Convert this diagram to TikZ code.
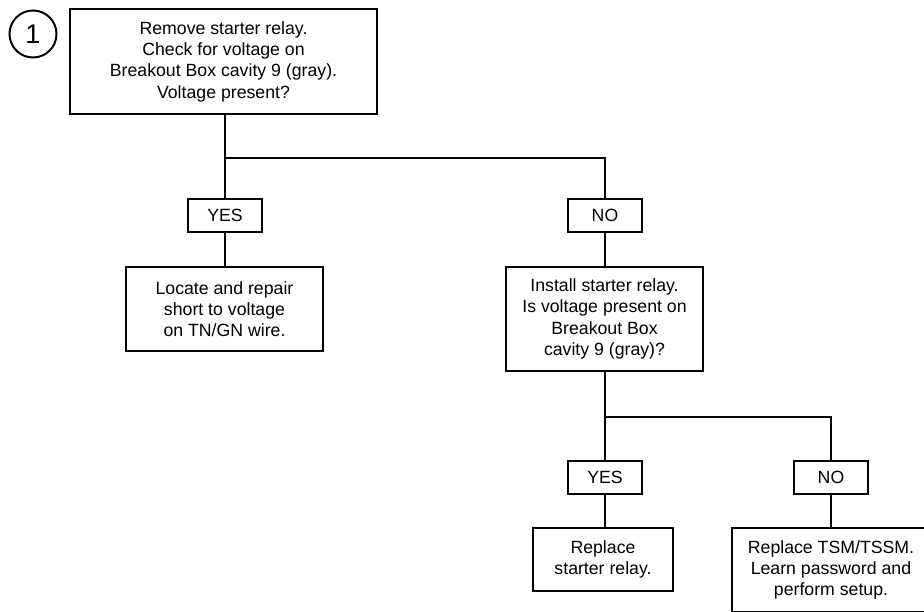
\documentclass[tikz,border=0pt]{standalone}
\usepackage{fontspec}
\setmainfont{Liberation Sans}
\begin{document}
\begin{tikzpicture}[x=1pt,y=-1pt,
  every node/.style={font=\fontsize{17.7}{21.3}\selectfont},
  box/.style={draw,line width=2pt,rectangle,align=center,inner sep=0pt},
  conn/.style={line width=2pt}]
\useasboundingbox (0,0) rectangle (924,612);
\clip (0,0) rectangle (924,612);
\node[draw,circle,line width=2pt,minimum size=47pt,inner sep=0pt,font=\fontsize{27}{29}\selectfont] (num) at (33,34) {1};
\node[box,minimum width=307pt,minimum height=105pt] (q1) at (223.5,61.5) {Remove starter relay.\\Check for voltage on\\Breakout Box cavity 9 (gray).\\Voltage present?};
\node[box,minimum width=74pt,minimum height=33pt] (yes1) at (225,215.5) {YES};
\node[box,minimum width=74pt,minimum height=33pt] (no1) at (605,215.5) {NO};
\node[box,minimum width=197pt,minimum height=84pt] (r1) at (224.5,309) {Locate and repair\\short to voltage\\on TN/GN wire.};
\node[box,minimum width=197pt,minimum height=104pt] (q2) at (604.5,319) {Install starter relay.\\Is voltage present on\\Breakout Box\\cavity 9 (gray)?};
\node[box,minimum width=74pt,minimum height=33pt] (yes2) at (605,477.5) {YES};
\node[box,minimum width=74pt,minimum height=33pt] (no2) at (831,477.5) {NO};
\node[box,minimum width=140pt,minimum height=63pt] (r2) at (603,559.5) {Replace\\starter relay.};
\node[box,minimum width=198pt,minimum height=84pt] (r3) at (831,570) {Replace TSM/TSSM.\\Learn password and\\perform setup.};
\coordinate (j1) at (225,158);
\coordinate (j2) at (605,417);
\draw[conn] (yes1 |- q1.south) -- (j1) -- (yes1.north);
\draw[conn] (j1) -| (no1.north);
\draw[conn] (yes1.south) -- (yes1 |- r1.north);
\draw[conn] (no1.south) -- (no1 |- q2.north);
\draw[conn] (yes2 |- q2.south) -- (j2) -- (yes2.north);
\draw[conn] (j2) -| (no2.north);
\draw[conn] (yes2.south) -- (yes2 |- r2.north);
\draw[conn] (no2.south) -- (no2 |- r3.north);
\end{tikzpicture}
\end{document}
